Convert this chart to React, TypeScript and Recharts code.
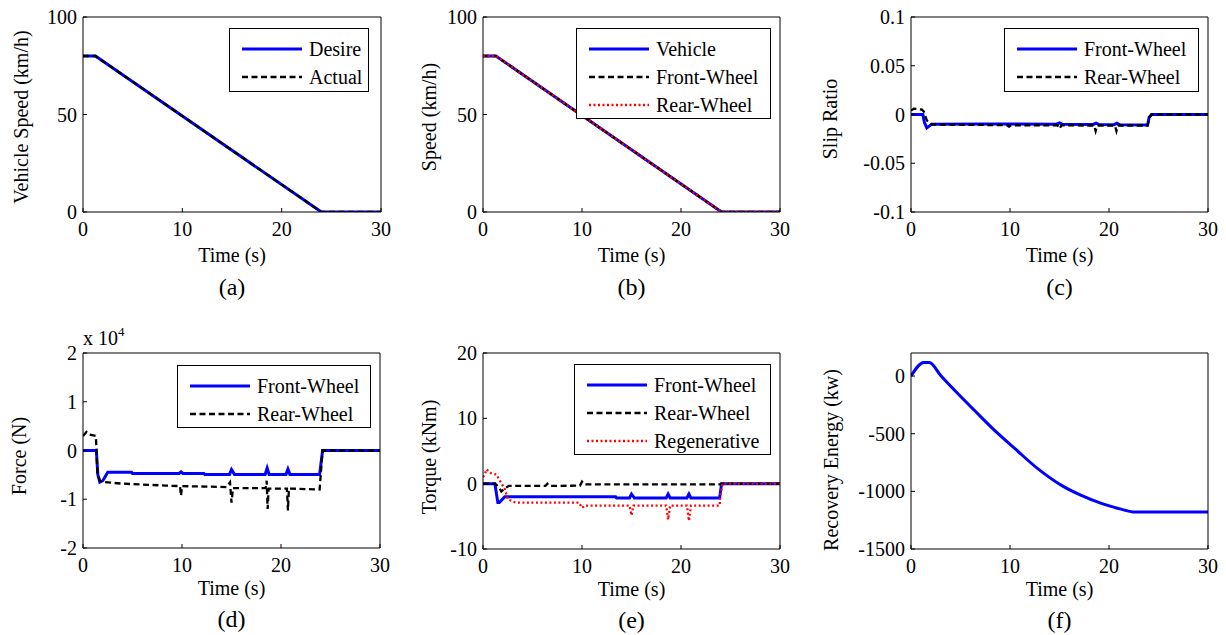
import React from "react";
import { LineChart, Line, XAxis, YAxis, Legend } from "recharts";

const FONT = "'Liberation Serif', 'DejaVu Serif', serif";
const BLUE = "#0000ff";
const BLACK = "#000000";
const RED = "#ff0000";

const timeTicks = [0, 10, 20, 30];

// (a) vehicle speed, km/h
const desireTime = [0, 1.25, 24.0, 30];
const desireSpeed = [80, 80, 0, 0];
const actualTime = [0, 1.25, 24.0, 30];
const actualSpeed = [80, 80, 0, 0];

// (b) vehicle and wheel speed, km/h
const wheelSpeedTime = [0, 1.3, 24.1, 30];
const vehicleSpeed = [80, 80, 0, 0];
const frontWheelSpeed = [80, 80, 0, 0];
const rearWheelSpeed = [80, 80, 0, 0];
const speedTicks = [0, 50, 100];

// (c) slip ratio
const frontSlipTime = [0, 1.2, 1.35, 1.6, 2.1, 8, 14.7, 15.0, 15.3, 18.4, 18.7, 19.0, 20.5, 20.8, 21.1, 23.9, 24.05, 24.3, 30];
const frontSlip = [0, 0, -0.008, -0.0137, -0.0099, -0.0098, -0.0099, -0.0085, -0.01, -0.0102, -0.0088, -0.0103, -0.0104, -0.009, -0.0105, -0.0107, -0.003, 0, 0];
const rearSlipTime = [0, 0.3, 1.1, 1.3, 1.6, 2.1, 8, 9.7, 9.9, 10.1, 14.8, 15.0, 15.2, 18.5, 18.65, 18.8, 20.6, 20.75, 20.9, 23.9, 24.05, 24.3, 30];
const rearSlip = [0.004, 0.006, 0.005, 0.003, -0.006, -0.0102, -0.0108, -0.011, -0.0125, -0.011, -0.0112, -0.0145, -0.0112, -0.0113, -0.017, -0.0113, -0.0113, -0.017, -0.0113, -0.0113, -0.003, 0, 0];
const slipTicks = [-0.1, -0.05, 0, 0.05, 0.1];

// (d) force, x 10^4 N
const frontForceTime = [0, 1.35, 1.5, 1.7, 2.0, 2.5, 4.9, 5.0, 9.7, 9.9, 10.1, 12.2, 12.3, 14.8, 15.0, 15.3, 18.4, 18.6, 18.8, 20.5, 20.7, 20.9, 23.9, 24.2, 30];
const frontForce = [0, 0, -0.5, -0.65, -0.62, -0.445, -0.445, -0.47, -0.47, -0.44, -0.47, -0.47, -0.49, -0.49, -0.39, -0.49, -0.49, -0.36, -0.49, -0.49, -0.38, -0.49, -0.49, 0, 0];
const rearForceTime = [0, 0.35, 0.6, 1.3, 1.45, 1.7, 2.2, 4.0, 8.4, 9.8, 9.9, 10.0, 14.5, 14.85, 15.0, 15.15, 18.45, 18.55, 18.65, 18.75, 20.6, 20.7, 20.8, 23.9, 24.2, 30];
const rearForce = [0.3, 0.38, 0.33, 0.3, -0.45, -0.62, -0.65, -0.68, -0.72, -0.73, -0.93, -0.73, -0.75, -0.65, -1.07, -0.77, -0.77, -0.62, -1.2, -0.78, -0.78, -1.23, -0.78, -0.8, 0, 0];
const forceTicks = [-2, -1, 0, 1, 2];

// (e) torque, kNm
const frontTorqueTime = [0, 1.2, 1.5, 1.65, 2.2, 13.4, 13.5, 14.8, 15.0, 15.3, 18.5, 18.7, 18.9, 20.6, 20.8, 21.0, 23.9, 24.1, 30];
const frontTorque = [0, 0, -2.9, -2.9, -2.0, -2.0, -2.2, -2.2, -1.6, -2.2, -2.2, -1.6, -2.2, -2.2, -1.6, -2.2, -2.2, 0, 0];
const rearTorqueTime = [0, 1.2, 1.6, 1.85, 2.3, 2.6, 6.3, 6.5, 6.7, 9.8, 10.0, 10.2, 23.9, 24.1, 30];
const rearTorque = [0, 0, -0.5, -1.2, -0.6, -0.35, -0.35, 0, -0.35, -0.3, 0.3, -0.1, -0.1, 0, 0];
const regenTorqueTime = [0, 0.2, 0.35, 0.8, 1.35, 1.8, 2.2, 2.5, 3.3, 9.7, 10.0, 10.3, 14.8, 15.0, 15.2, 18.5, 18.7, 18.9, 20.6, 20.8, 21.0, 23.9, 24.0, 24.2, 30];
const regenTorque = [1.0, 1.5, 2.2, 1.6, 1.4, 0.2, -0.8, -2.4, -2.9, -2.9, -3.7, -3.35, -3.35, -4.85, -3.35, -3.35, -5.5, -3.35, -3.35, -5.7, -3.35, -3.35, -1.5, 0, 0];
const torqueTicks = [-10, 0, 10, 20];

// (f) recovery energy
const energyTime = [0, 1.3, 1.85, 3.0, 4.6, 6.4, 8.8, 10.5, 12.8, 15.2, 17.2, 19.3, 21.3, 22.6, 30];
const energy = [0, 118, 118, 5, -141, -297, -500, -630, -803, -948, -1035, -1107, -1156, -1180, -1180];
const energyTicks = [-1500, -1000, -500, 0];

const pts = (t: number[], v: number[]) => t.map((x, i) => ({ t: x, v: v[i] }));

type Series = {
  name: string;
  data: { t: number; v: number }[];
  color: string;
  width: number;
  dash?: string;
  curve?: "linear" | "monotone";
};

const solid = (name: string, t: number[], v: number[]): Series => ({ name, data: pts(t, v), color: BLUE, width: 3 });
const dashed = (name: string, t: number[], v: number[]): Series => ({ name, data: pts(t, v), color: BLACK, width: 2.3, dash: "6 3.5" });
const dotted = (name: string, t: number[], v: number[]): Series => ({ name, data: pts(t, v), color: RED, width: 2.3, dash: "2 2.5" });

const AXL = 100;
const AXR = 10;
const AXT = 30;
const AXB = 100;

function LegendBox({ items, w, h }: { items: Series[]; w: number; h: number }) {
  return (
    <div
      style={{
        width: w,
        height: h,
        boxSizing: "border-box",
        border: "1px solid #000",
        background: "#fff",
        position: "relative",
        fontFamily: FONT,
        fontSize: 20,
        color: "#000",
      }}
    >
      {items.map((s, i) => (
        <div
          key={s.name}
          style={{ position: "absolute", left: 0, top: 5.5 + i * 28, height: 28, display: "flex", alignItems: "center", whiteSpace: "nowrap" }}
        >
          <svg width={60} height={10} style={{ marginLeft: 12, marginRight: 7 }}>
            <line x1={0} y1={5} x2={60} y2={5} stroke={s.color} strokeWidth={s.width} strokeDasharray={s.dash} />
          </svg>
          <span style={{ lineHeight: "28px" }}>{s.name}</span>
        </div>
      ))}
    </div>
  );
}

type PanelProps = {
  plot: [number, number, number, number];
  yDomain: [number, number];
  yTicks: number[];
  yLabel: string;
  yLabelX: number;
  yLabelY: number;
  caption: string;
  xLabelGap: number;
  captionGap: number;
  series: Series[];
  legend?: [number, number, number, number];
  exponent?: string;
};

function Panel(p: PanelProps) {
  const [px, py, pw, ph] = p.plot;
  const left = px - AXL;
  const top = py - AXT;
  const tickFont = { fontFamily: FONT, fontSize: 20, fill: "#000" };
  const textStyle = { fontFamily: FONT, fill: "#000" };
  const ylx = p.yLabelX - left + 6;
  const yly = p.yLabelY - top;
  return (
    <div style={{ position: "absolute", left, top, fontFamily: FONT }}>
      <LineChart width={AXL + pw + AXR} height={AXT + ph + AXB} margin={{ top: 0, right: 0, bottom: 0, left: 0 }}>
        <XAxis
          dataKey="t"
          type="number"
          domain={[0, 30]}
          ticks={timeTicks}
          interval={0}
          allowDataOverflow
          height={AXB}
          tickSize={-4}
          tickMargin={14}
          tick={tickFont}
          axisLine={{ stroke: "#000" }}
          tickLine={{ stroke: "#000" }}
          label={() => (
            <g>
              <text x={AXL + pw / 2} y={AXT + ph + p.xLabelGap} textAnchor="middle" fontSize={20} {...textStyle}>
                Time (s)
              </text>
              <text x={AXL + pw / 2} y={AXT + ph + p.captionGap} textAnchor="middle" fontSize={24} {...textStyle}>
                {p.caption}
              </text>
            </g>
          )}
        />
        <XAxis
          xAxisId="top"
          orientation="top"
          type="number"
          domain={[0, 30]}
          ticks={timeTicks}
          interval={0}
          height={AXT}
          tickSize={-4}
          tick={false}
          axisLine={{ stroke: "#000" }}
          tickLine={{ stroke: "#000" }}
          label={() =>
            p.exponent ? (
              <text x={AXL} y={AXT - 8} fontSize={20} {...textStyle}>
                x 10
                <tspan fontSize={13} dy={-9}>
                  {p.exponent}
                </tspan>
              </text>
            ) : null
          }
        />
        <YAxis
          type="number"
          domain={p.yDomain}
          ticks={p.yTicks}
          interval={0}
          allowDataOverflow
          width={AXL}
          tickSize={-4}
          tickMargin={10}
          tick={tickFont}
          axisLine={{ stroke: "#000" }}
          tickLine={{ stroke: "#000" }}
          label={() => (
            <text
              x={ylx}
              y={yly}
              transform={`rotate(-90, ${ylx}, ${yly})`}
              textAnchor="middle"
              fontSize={20}
              {...textStyle}
            >
              {p.yLabel}
            </text>
          )}
        />
        <YAxis
          yAxisId="right"
          orientation="right"
          type="number"
          domain={p.yDomain}
          ticks={p.yTicks}
          interval={0}
          width={AXR}
          tickSize={-4}
          tick={false}
          axisLine={{ stroke: "#000" }}
          tickLine={{ stroke: "#000" }}
        />
        {p.series.map((s) => (
          <Line
            key={s.name}
            data={s.data}
            dataKey="v"
            name={s.name}
            type={s.curve || "linear"}
            stroke={s.color}
            strokeWidth={s.width}
            strokeDasharray={s.dash}
            dot={false}
            activeDot={false}
            isAnimationActive={false}
          />
        ))}
        {p.legend && (
          <Legend
            layout="vertical"
            align="center"
            verticalAlign="middle"
            width={p.legend[2]}
            height={p.legend[3]}
            wrapperStyle={{ left: p.legend[0] - left, top: p.legend[1] - top, width: p.legend[2], height: p.legend[3] }}
            content={() => <LegendBox items={p.series} w={p.legend![2]} h={p.legend![3]} />}
          />
        )}
      </LineChart>
    </div>
  );
}

export default function App() {
  return (
    <div style={{ position: "absolute", left: 0, top: 0, width: 1226, height: 635, background: "#fff", overflow: "hidden" }}>
      <Panel
        plot={[83, 17, 298, 195]}
        yDomain={[0, 100]}
        yTicks={speedTicks}
        yLabel="Vehicle Speed (km/h)"
        yLabelX={22}
        yLabelY={117}
        caption="(a)"
        xLabelGap={50}
        captionGap={83}
        series={[solid("Desire", desireTime, desireSpeed), dashed("Actual", actualTime, actualSpeed)]}
        legend={[229, 28, 140, 64]}
      />
      <Panel
        plot={[483, 17, 297, 195]}
        yDomain={[0, 100]}
        yTicks={speedTicks}
        yLabel="Speed (km/h)"
        yLabelX={430}
        yLabelY={117}
        caption="(b)"
        xLabelGap={50}
        captionGap={83}
        series={[
          solid("Vehicle", wheelSpeedTime, vehicleSpeed),
          dashed("Front-Wheel", wheelSpeedTime, frontWheelSpeed),
          dotted("Rear-Wheel", wheelSpeedTime, rearWheelSpeed),
        ]}
        legend={[576, 28, 195, 91]}
      />
      <Panel
        plot={[911, 17, 297, 195]}
        yDomain={[-0.1, 0.1]}
        yTicks={slipTicks}
        yLabel="Slip Ratio"
        yLabelX={831}
        yLabelY={119}
        caption="(c)"
        xLabelGap={50}
        captionGap={83}
        series={[solid("Front-Wheel", frontSlipTime, frontSlip), dashed("Rear-Wheel", rearSlipTime, rearSlip)]}
        legend={[1004, 28, 195, 64]}
      />
      <Panel
        plot={[83, 353, 297, 195]}
        yDomain={[-2, 2]}
        yTicks={forceTicks}
        yLabel="Force (N)"
        yLabelX={20}
        yLabelY={456}
        caption="(d)"
        xLabelGap={47}
        captionGap={79}
        exponent="4"
        series={[solid("Front-Wheel", frontForceTime, frontForce), dashed("Rear-Wheel", rearForceTime, rearForce)]}
        legend={[177, 365, 194, 63]}
      />
      <Panel
        plot={[483, 353, 297, 196]}
        yDomain={[-10, 20]}
        yTicks={torqueTicks}
        yLabel="Torque (kNm)"
        yLabelX={430}
        yLabelY={457}
        caption="(e)"
        xLabelGap={47}
        captionGap={79}
        series={[
          solid("Front-Wheel", frontTorqueTime, frontTorque),
          dashed("Rear-Wheel", rearTorqueTime, rearTorque),
          dotted("Regenerative", regenTorqueTime, regenTorque),
        ]}
        legend={[574, 364, 197, 91]}
      />
      <Panel
        plot={[911, 353, 297, 196]}
        yDomain={[-1500, 200]}
        yTicks={energyTicks}
        yLabel="Recovery Energy (kw)"
        yLabelX={832}
        yLabelY={460}
        caption="(f)"
        xLabelGap={47}
        captionGap={79}
        series={[{ ...solid("Recovery Energy", energyTime, energy), curve: "monotone" }]}
      />
    </div>
  );
}
